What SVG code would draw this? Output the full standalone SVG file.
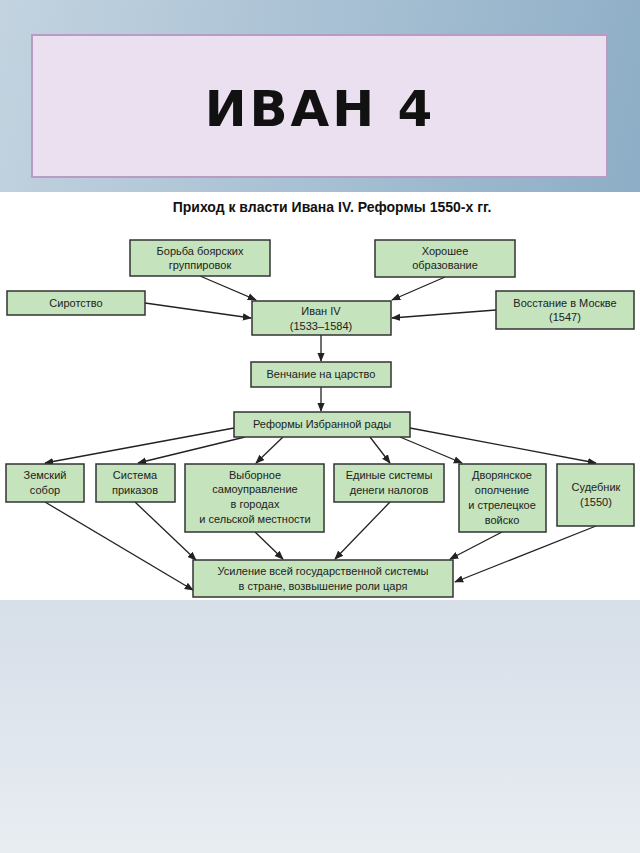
<svg xmlns="http://www.w3.org/2000/svg" width="640" height="853" viewBox="0 0 640 853">
<defs>
<linearGradient id="bg" x1="0" y1="0" x2="1" y2="0.3"><stop offset="0" stop-color="#c3d3e0"/><stop offset="1" stop-color="#8cadc6"/></linearGradient>
<linearGradient id="bot" x1="0" y1="0" x2="0" y2="1"><stop offset="0" stop-color="#d6dee8"/><stop offset="1" stop-color="#e8edf2"/></linearGradient>
<marker id="ah" viewBox="0 0 10 10" refX="9" refY="5" markerWidth="7" markerHeight="7" orient="auto"><path d="M0,1 L10,5 L0,9 Z" fill="#222"/></marker>
</defs>
<style>
.n{fill:#c5e3bc;stroke:#333;stroke-width:1.5}
.t{font-family:"Liberation Sans",Arial,sans-serif;font-size:11px;fill:#222;text-anchor:middle}
#edges line{stroke:#222;stroke-width:1.3;marker-end:url(#ah)}
</style>
<rect width="640" height="853" fill="url(#bg)"/>
<rect y="600" width="640" height="253" fill="url(#bot)"/>
<rect y="192" width="640" height="408" fill="#fff"/>
<g id="title"><rect x="32" y="35" width="575" height="142" fill="#ebe0f0" stroke="#b89cc4" stroke-width="2"/>
<text x="320" y="126" font-family="DejaVu Sans,Liberation Sans,sans-serif" font-size="50" font-weight="bold" letter-spacing="3" text-anchor="middle" fill="#111">ИВАН 4</text></g>
<text x="332" y="212" font-family="Liberation Sans,Arial,sans-serif" font-size="14" font-weight="bold" text-anchor="middle" fill="#111">Приход к власти Ивана IV. Реформы 1550-х гг.</text>
<g id="edges">
<line x1="200" y1="276" x2="256" y2="300"/>
<line x1="445" y1="277" x2="392" y2="300"/>
<line x1="145" y1="303" x2="251" y2="318"/>
<line x1="496" y1="310" x2="392" y2="318"/>
<line x1="321" y1="335" x2="321" y2="361"/>
<line x1="321" y1="387" x2="321" y2="411"/>
<line x1="234" y1="428" x2="45" y2="463"/>
<line x1="245" y1="437" x2="138" y2="463"/>
<line x1="283" y1="437" x2="256" y2="463"/>
<line x1="370" y1="437" x2="390" y2="463"/>
<line x1="400" y1="437" x2="462" y2="463"/>
<line x1="410" y1="428" x2="596" y2="463"/>
<line x1="45" y1="502" x2="193" y2="590"/>
<line x1="135" y1="502" x2="196" y2="560"/>
<line x1="255" y1="532" x2="283" y2="559"/>
<line x1="390" y1="502" x2="335" y2="559"/>
<line x1="502" y1="532" x2="450" y2="559"/>
<line x1="596" y1="526" x2="455" y2="582"/>
</g>
<g id="borba"><rect class="n" x="130" y="240" width="140" height="36"/><text class="t" x="200" y="255">Борьба боярских</text><text class="t" x="200" y="269">группировок</text></g>
<g id="obraz"><rect class="n" x="375" y="240" width="140" height="37"/><text class="t" x="445" y="255">Хорошее</text><text class="t" x="445" y="269">образование</text></g>
<g id="sirot"><rect class="n" x="7" y="291" width="138" height="24"/><text class="t" x="76" y="307">Сиротство</text></g>
<g id="ivan"><rect class="n" x="252" y="301" width="139" height="34"/><text class="t" x="321" y="315">Иван IV</text><text class="t" x="321" y="330">(1533–1584)</text></g>
<g id="vosst"><rect class="n" x="496" y="291" width="138" height="38"/><text class="t" x="565" y="307">Восстание в Москве</text><text class="t" x="565" y="321">(1547)</text></g>
<g id="vench"><rect class="n" x="251" y="362" width="140" height="25"/><text class="t" x="321" y="378">Венчание на царство</text></g>
<g id="reform"><rect class="n" x="234" y="412" width="176" height="25"/><text class="t" x="322" y="428">Реформы Избранной рады</text></g>
<g id="zem"><rect class="n" x="6" y="464" width="78" height="38"/><text class="t" x="45" y="479">Земский</text><text class="t" x="45" y="494">собор</text></g>
<g id="prik"><rect class="n" x="96" y="464" width="79" height="38"/><text class="t" x="135" y="479">Система</text><text class="t" x="135" y="494">приказов</text></g>
<g id="vyb"><rect class="n" x="185" y="464" width="139" height="68"/><text class="t" x="255" y="479">Выборное</text><text class="t" x="255" y="493">самоуправление</text><text class="t" x="255" y="508">в городах</text><text class="t" x="255" y="523">и сельской местности</text></g>
<g id="edin"><rect class="n" x="334" y="464" width="110" height="38"/><text class="t" x="389" y="479">Единые системы</text><text class="t" x="389" y="494">денеги налогов</text></g>
<g id="dvor"><rect class="n" x="459" y="464" width="87" height="68"/><text class="t" x="502" y="479">Дворянское</text><text class="t" x="502" y="494">ополчение</text><text class="t" x="502" y="509">и стрелецкое</text><text class="t" x="502" y="524">войско</text></g>
<g id="sud"><rect class="n" x="557" y="464" width="77" height="62"/><text class="t" x="596" y="491">Судебник</text><text class="t" x="596" y="506">(1550)</text></g>
<g id="usil"><rect class="n" x="193" y="560" width="260" height="37"/><text class="t" x="323" y="575">Усиление всей государственной системы</text><text class="t" x="323" y="590">в стране, возвышение роли царя</text></g>
</svg>
